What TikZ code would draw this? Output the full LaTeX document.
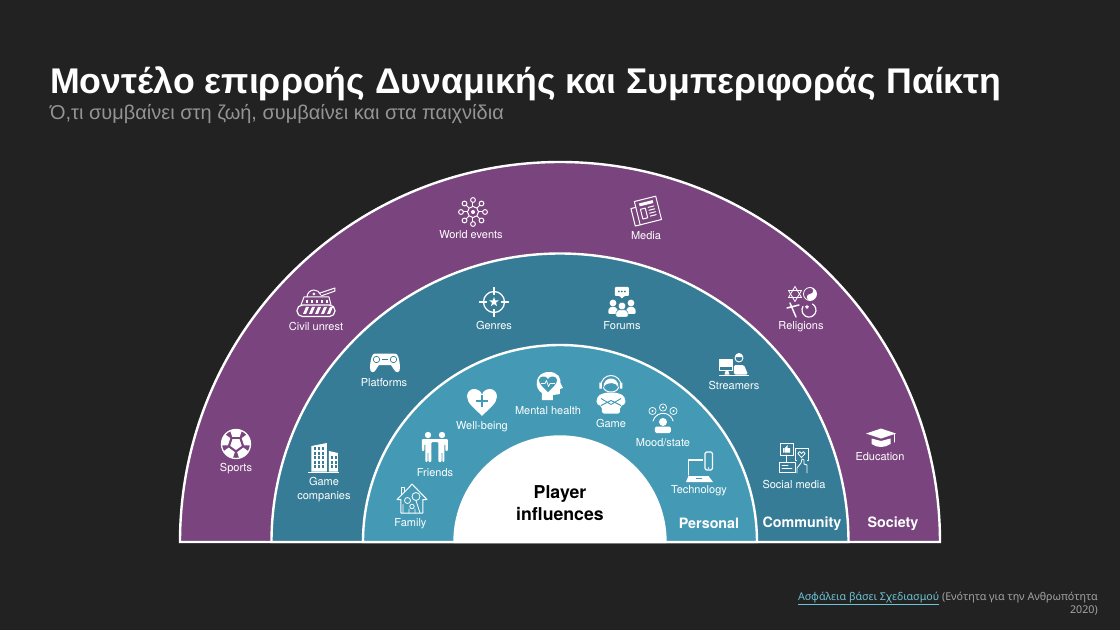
\documentclass[tikz,border=0pt]{standalone}
\usepackage{fontspec}
\setmainfont{TeX Gyre Heros}
\newfontfamily\greekfont{Liberation Sans}
\newfontfamily\footfont{Noto Sans}
\usetikzlibrary{shapes.geometric,calc}
\definecolor{slidebg}{RGB}{34,34,34}
\definecolor{societycol}{RGB}{122,68,126}
\definecolor{communitycol}{RGB}{55,124,150}
\definecolor{personalcol}{RGB}{68,154,181}
\definecolor{subtitlecol}{RGB}{148,148,148}
\definecolor{footcol}{RGB}{165,165,165}
\definecolor{linkcol}{RGB}{108,196,212}
\tikzset{
    ringline/.style={draw=white, line width=2.4pt, line join=miter},
    ringlabel/.style={text=white, font=\fontsize{11}{14}\selectfont, align=center, inner sep=0pt},
    ringname/.style={text=white, font=\fontsize{14.3}{16}\selectfont\bfseries, inner sep=0pt},
    iconline/.style={draw=white, line width=1pt, line cap=round, line join=round},
    iconfill/.style={fill=white, draw=none},
    % Society ring
    pics/virusmark/.style={code={
        \draw[iconline] (0,0) circle (5.5);
        \fill[white] (0,0) circle (2);
        \foreach \a in {0,45,...,315} {
            \draw[iconline] (\a:5.5) -- (\a:9.5);
            \draw[iconline] (\a:12) circle (2.4);
        }
    }},
    pics/newsmark/.style={code={
        \begin{scope}[rotate=14]
            \draw[iconline] (-9,-12) rectangle (13,12);
            \draw[iconline] (-9,-12) -- (-14,-12) -- (-14,6) -- (-9,6);
            \fill[white] (-5,6) rectangle (9,9);
            \draw[iconline] (-5,-7) rectangle (0,3);
            \foreach \l in {3,0,-3,-6} { \draw[iconline] (3,\l) -- (9,\l); }
        \end{scope}
    }},
    pics/tankmark/.style={code={
        \draw[iconline, line width=1.2pt, rounded corners=5.5pt] (-19,-14.5) rectangle (19,-3);
        \foreach \s in {-13,-7,-1,5,11} { \fill[white] (\s,-12) -- (\s+3,-12) -- (\s+6,-5) -- (\s+3,-5) -- cycle; }
        \draw[iconline] (-15,-3) -- (-12,5) -- (13,5) -- (15,-3);
        \foreach \s in {-9,-4,1,6,11} { \fill[white] (\s-1.3,-1) rectangle (\s+1.3,2); }
        \draw[iconline] (-9,5) arc[start angle=180, end angle=20, radius=7];
        \fill[white] (-2,8) circle (1.5);
        \draw[iconline] (4,9) -- (19,14) -- (19,11) -- (5,6);
    }},
    pics/cultmark/.style={code={
        % star of David
        \draw[iconline, line width=.8pt] (-7,15.5) -- (-13.5,4.5) -- (-.5,4.5) -- cycle;
        \draw[iconline, line width=.8pt] (-7,.5) -- (-13.5,11.5) -- (-.5,11.5) -- cycle;
        % yin yang
        \draw[iconline, line width=.8pt] (8,8) circle (6.5);
        \fill[white] (8,14.5) arc[start angle=90, end angle=-90, radius=6.5] arc[start angle=270, end angle=90, radius=3.25] arc[start angle=-90, end angle=90, radius=3.25] -- cycle;
        % cross and crescent
        \draw[iconline, line width=1.5pt] (-12,-1) -- (-6,-15);
        \draw[iconline, line width=1.5pt] (-15,-6) -- (-3,-3);
        \draw[iconline, line width=1.2pt] (10.5,-2) arc[start angle=60, end angle=-210, radius=7];
        \node[iconfill, star, star points=5, minimum size=4pt, inner sep=0pt] (cultstar) at (5,-5) {};
    }},
    pics/ballmark/.style={code={
        \draw[iconline, line width=1.3pt] (0,0) circle (14.5);
        \begin{scope}
            \clip (0,0) circle (14.5);
            \foreach \a in {90,162,234,306,18} {
                \node[iconfill, regular polygon, regular polygon sides=5, minimum size=13pt, inner sep=0pt, rotate=\a-90] at (\a:12.5) {};
            }
            \node[iconfill, regular polygon, regular polygon sides=5, minimum size=12pt, inner sep=0pt, rotate=180] at (0,0) {};
        \end{scope}
    }},
    pics/capmark/.style={code={
        \fill[white] (-15,4.5) -- (0,9.5) -- (15,4.5) -- (0,-.5) -- cycle;
        \fill[white] (-9.5,-.5) -- (0,-3) -- (9.5,-.5) -- (9.5,-6) .. controls (4,-10) and (-4,-10) .. (-9.5,-6) -- cycle;
        \draw[iconline] (13.5,4) -- (13.5,-4);
    }},
    % Community ring
    pics/targetmark/.style={code={
        \draw[iconline, line width=1.3pt] (0,0) circle (10.5);
        \foreach \a in {0,90,180,270} { \draw[iconline, line width=1.3pt] (\a:7.5) -- (\a:14.5); }
        \node[iconfill, star, star points=5, star point ratio=2.4, minimum size=10pt, inner sep=0pt] at (0,0) {};
    }},
    pics/forummark/.style={code={
        \fill[white, rounded corners=1pt] (-7,6) -- (-2,6) -- (0,3) -- (2,6) -- (7,6) -- (7,15) -- (-7,15) -- cycle;
        \foreach \s in {-3,0,3} { \fill[communitycol] (\s,10.5) circle (1); }
        \foreach \s in {-9,9} {
            \fill[white] (\s,-1) circle (3.4);
            \fill[white, rounded corners=2pt] (\s-5,-12) -- (\s-4,-5) -- (\s+4,-5) -- (\s+5,-12) -- cycle;
        }
        \fill[white, draw=communitycol] (0,-4) circle (3.8);
        \fill[white, draw=communitycol, rounded corners=2pt] (-6.5,-15) -- (-5.5,-8) -- (5.5,-8) -- (6.5,-15) -- cycle;
    }},
    pics/padmark/.style={code={
        \fill[white] (-10,9.5) -- (10,9.5) .. controls (13,9.5) and (14.5,4) .. (15,-4) .. controls (15.5,-10) and (11,-11) .. (9,-6.5) -- (6,-2) -- (-6,-2) -- (-9,-6.5) .. controls (-11,-11) and (-15.5,-10) .. (-15,-4) .. controls (-14.5,4) and (-13,9.5) .. (-10,9.5) -- cycle;
        \draw[communitycol, line width=.7pt] (-8.5,3.5) circle (3.2) (8.5,3.5) circle (3.2);
        \fill[communitycol] (-3,3) rectangle (3,4.5);
    }},
    pics/streamermark/.style={code={
        \fill[white] (-15,-12) rectangle (15,-10.5);
        \draw[iconline, line width=1.1pt] (-14.5,-6.5) rectangle (-1.5,4);
        \fill[white] (-14.5,4) rectangle (-1.5,-3);
        \fill[white] (-9.5,-10.5) -- (-8,-6) -- (-6,-6) -- (-4.5,-10.5) -- cycle;
        \draw[iconline, line width=.9pt] (5,6) circle (4);
        \fill[white] (1,7) arc[start angle=180, end angle=0, radius=4] -- cycle;
        \fill[white, rounded corners=1.5pt] (0,-10.5) -- (0,-1) -- (10,-1) -- (14,-10.5) -- cycle;
    }},
    pics/buildingmark/.style={code={
        \fill[white] (-15.5,-15) rectangle (15.5,-13.5);
        \fill[white] (-12.5,-13.5) -- (-12.5,12) -- (3,15) -- (3,-13.5) -- cycle;
        \fill[white] (5,-13.5) -- (5,7) -- (14,5) -- (14,-13.5) -- cycle;
        \foreach \r in {0,1,2,3,4} { \foreach \c in {0,1,2} {
            \fill[communitycol] (-10+\c*4,-10+\r*4.5) rectangle +(2.4,2.8);
        } }
        \foreach \r in {0,1,2} { \foreach \c in {0,1} {
            \fill[communitycol] (7+\c*3.6,-10+\r*4.5) rectangle +(2.2,2.8);
        } }
    }},
    pics/socialmark/.style={code={
        \draw[iconline, line width=.8pt] (-14,3) rectangle (-1,14.5);
        \fill[white] (-11,5.5) rectangle (-9.5,10) (-9,5.5) -- (-4,5.5) -- (-4,10) -- (-6.5,10) -- (-6.5,13) -- (-9,10) -- cycle;
        \draw[iconline, line width=.8pt] (1,-2) rectangle (14,10);
        \draw[iconline, line width=.8pt] (7.5,0.5) -- (3.8,4.5) arc[start angle=180, end angle=0, radius=1.85] arc[start angle=180, end angle=0, radius=1.85] -- cycle;
        \draw[iconline, line width=.8pt] (-15,-14) rectangle (1,-4);
        \draw[iconline, line width=.8pt] (-12,-7.5) -- (-6,-7.5) (-12,-10.5) -- (-2,-10.5);
        \draw[iconline, line width=.8pt] (-7.5,3) -- (-7.5,-4);
        \fill[communitycol] (2.5,-15) rectangle (13,-1);
        \draw[iconline, line width=.8pt] (3,-15) -- (3,-10) -- (7,-5) -- (8,-1) -- (10,-2) -- (10,-6) -- (13,-7) -- (13,-15);
    }},
    % Personal ring
    pics/heartmark/.style={code={
        \fill[white] (0,-13.5) .. controls (-7,-6) and (-15,-1) .. (-15,6) .. controls (-15,11) and (-11,13.5) .. (-8,13.5) .. controls (-4,13.5) and (-1,11) .. (0,8) .. controls (1,11) and (4,13.5) .. (8,13.5) .. controls (11,13.5) and (15,11) .. (15,6) .. controls (15,-1) and (7,-6) .. (0,-13.5) -- cycle;
        \draw[personalcol, line width=2.6pt] (-6,1.5) -- (6,1.5) (0,-4.5) -- (0,7.5);
    }},
    pics/headmark/.style={code={
        \fill[white] (-7,-14) -- (-7,-7) .. controls (-15,-3) and (-15,14) .. (0,14) .. controls (9,14) and (12,8) .. (11.5,3) -- (14,-2) -- (11,-3) -- (11,-8) -- (4,-9) -- (4,-14) -- cycle;
        \fill[personalcol] (-1,-6) .. controls (-6,-1) and (-10,2) .. (-10,6) .. controls (-10,10) and (-3,11) .. (-1,7) .. controls (1,11) and (8,10) .. (8,6) .. controls (8,2) and (4,-1) .. (-1,-6) -- cycle;
        \draw[white, line width=.7pt, line join=round] (-8,2.5) -- (-4,2.5) -- (-2.5,5.5) -- (-.5,-.5) -- (1,2.5) -- (6,2.5);
    }},
    pics/gamermark/.style={code={
        \draw[iconline, line width=1pt] (-10,8) arc[start angle=180, end angle=0, radius=10];
        \fill[white] (-11.5,5) rectangle (-9,11) (9,5) rectangle (11.5,11);
        \fill[white] (-7.5,6) .. controls (-8,18) and (8,18) .. (7.5,6) .. controls (6,11) and (-4,13) .. (-7.5,6) -- cycle;
        \draw[iconline] (-7.5,6) .. controls (-6,0) and (6,0) .. (7.5,6);
        \fill[white, rounded corners=2pt] (-15,-10) -- (-13,-2) -- (-5,1) -- (5,1) -- (13,-2) -- (15,-10) -- (9,-13) -- (9,-20) -- (-9,-20) -- (-9,-13) -- cycle;
        \draw[personalcol, line width=.9pt] (-10,-5) -- (0,-11) -- (10,-5) (-10,-12) -- (0,-7) -- (10,-12);
    }},
    pics/moodmark/.style={code={
        \foreach \x/\y in {-10.5/7, 0/10.5, 10.5/7} { \draw[iconline, line width=.7pt] (\x,\y) circle (3.6); \fill[white] (\x,\y) circle (1.1); }
        \draw[iconline, line width=.9pt] (-10,-3) arc[start angle=165, end angle=15, radius=10.4];
        \fill[white] (0,-4) circle (4);
        \fill[white, rounded corners=1.5pt] (-8,-15) -- (-8,-8.5) -- (8,-8.5) -- (8,-15) -- cycle;
    }},
    pics/techmark/.style={code={
        \draw[iconline, line width=1.1pt] (-11,-8) -- (-11,7) -- (7,7);
        \fill[white] (-13.5,-15) -- (-11,-9) -- (9,-9) -- (13.5,-15) -- cycle;
        \fill[personalcol] (-3,-12) rectangle (3,-10.5);
        \fill[personalcol] (3.5,-8) rectangle (14.5,16);
        \draw[iconline, line width=1.1pt, rounded corners=1.5pt] (5.5,-3) rectangle (13,15);
        \fill[white] (9.2,-1) circle (.8);
    }},
    pics/friendmark/.style={code={
        \fill[white] (-7,12) circle (3.2) (7,12) circle (3.2);
        \fill[white, rounded corners=1pt] (-13,-4) -- (-13,8) -- (13,8) -- (13,-4) -- (10.5,-4) -- (10.5,3) -- (9.5,3) -- (9.5,-15) -- (7.3,-15) -- (7.3,-5) -- (6.7,-5) -- (6.7,-15) -- (3.5,-15) -- (3.5,5) -- (1,5) -- (-1,5) -- (-3.5,5) -- (-3.5,-15) -- (-6.7,-15) -- (-6.7,-5) -- (-7.3,-5) -- (-7.3,-15) -- (-9.5,-15) -- (-9.5,3) -- (-10.5,3) -- (-10.5,-4) -- cycle;
    }},
    pics/housemark/.style={code={
        \draw[iconline] (-15,-1) -- (-3,11) -- (0,14.5) -- (15,-1) -- (11,-1) -- (11,-14.5) -- (-11,-14.5) -- (-11,-1) -- cycle;
        \draw[iconline] (-10,4) -- (-10,11) -- (-7,11) -- (-7,7);
        \draw[iconline, line width=.8pt] (-4.5,-2) circle (3) (4,2) circle (4) (0,-8) circle (2.2);
        \draw[iconline, line width=.8pt] (-9,-14.5) -- (-9,-6) (4,-2) -- (8,-14.5) (-3,-14.5) -- (-3,-10.5) (3,-14.5) -- (3,-10.5);
    }}
}
\begin{document}
\begin{tikzpicture}[x=1pt, y=1pt]
    \useasboundingbox[fill=slidebg] (-560,-88) rectangle (560,542);

    % Title and subtitle
    \node[anchor=base west, inner sep=0pt, text=white, font=\greekfont\fontsize{35.7}{40}\selectfont\bfseries] (maintitle) at (-510,448) {Μοντέλο επιρροής Δυναμικής και Συμπεριφοράς Παίκτη};
    \node[anchor=base west, inner sep=0pt, text=subtitlecol, font=\greekfont\fontsize{20}{23}\selectfont] (subtitle) at (-510,422) {Ό,τι συμβαίνει στη ζωή, συμβαίνει και στα παιχνίδια};

    % Half rings, largest first
    \foreach \rad/\col in {380/societycol, 288.5/communitycol, 197/personalcol, 105.5/white} {
        \draw[ringline, fill=\col] (-\rad,0) arc[start angle=180, end angle=0, radius=\rad] -- cycle;
    }

    % Society icons
    \pic at (-87,330) {virusmark};
    \pic at (86,331) {newsmark};
    \pic at (-244,240) {tankmark};
    \pic at (242,240) {cultmark};
    \pic at (-324,98) {ballmark};
    \pic at (321,104) {capmark};
    % Community icons
    \pic at (-66,240) {targetmark};
    \pic at (62,240) {forummark};
    \pic at (-175,179) {padmark};
    \pic at (174,178) {streamermark};
    \pic at (-236,84) {buildingmark};
    \pic at (234,84) {socialmark};
    % Personal icons
    \pic at (-78,139.5) {heartmark};
    \pic at (-11,156) {headmark};
    \pic at (51,148.5) {gamermark};
    \pic at (103,124) {moodmark};
    \pic at (139.5,75) {techmark};
    \pic at (-125,95) {friendmark};
    \pic at (-148,43.5) {housemark};

    % Small labels under the icons
    \foreach \lx/\ly/\nm/\txt in {
        -89/307.5/worldlab/{World events},
        86/306.5/medialab/{Media},
        -244/215.5/unrestlab/{Civil unrest},
        241/215.5/religionlab/{Religions},
        -324/73/sportslab/{Sports},
        320/85.5/educationlab/{Education},
        -66/216.5/genreslab/{Genres},
        62/216.5/forumslab/{Forums},
        -176/159.5/platformslab/{Platforms},
        174/156.5/streamerslab/{Streamers},
        -236/52.5/companylab/{Game\\companies},
        234/57.5/sociallab/{Social media},
        -78/115.5/wellbeinglab/{Well-being},
        -12/131.5/mentallab/{Mental health},
        51/118.5/gamelab/{Game},
        103/99.5/moodlab/{Mood/state},
        139/51.5/techlab/{Technology},
        -125/69.5/friendslab/{Friends},
        -148/18/familylab/{Family}
    } {
        \node[ringlabel] (\nm) at (\lx,\ly) {\txt};
    }

    % Ring names
    \node[ringname] (personalname) at (149,18.5) {Personal};
    \node[ringname] (communityname) at (242,18.5) {Community};
    \node[ringname] (societyname) at (333,18.5) {Society};

    % Centre text
    \node[align=center, inner sep=0pt, text=black, font=\fontsize{17.7}{22}\selectfont\bfseries] (playerlab) at (0,38.5) {Player\\influences};

    % Source line
    \node[anchor=base east, align=right, inner sep=0pt, text=footcol, font=\footfont\fontsize{10.7}{13}\selectfont] (sourcelab) at (538,-71) {\textcolor{linkcol}{\underline{Ασφάλεια βάσει Σχεδιασμού}} (Ενότητα για την Ανθρωπότητα\\2020)};
\end{tikzpicture}
\end{document}
